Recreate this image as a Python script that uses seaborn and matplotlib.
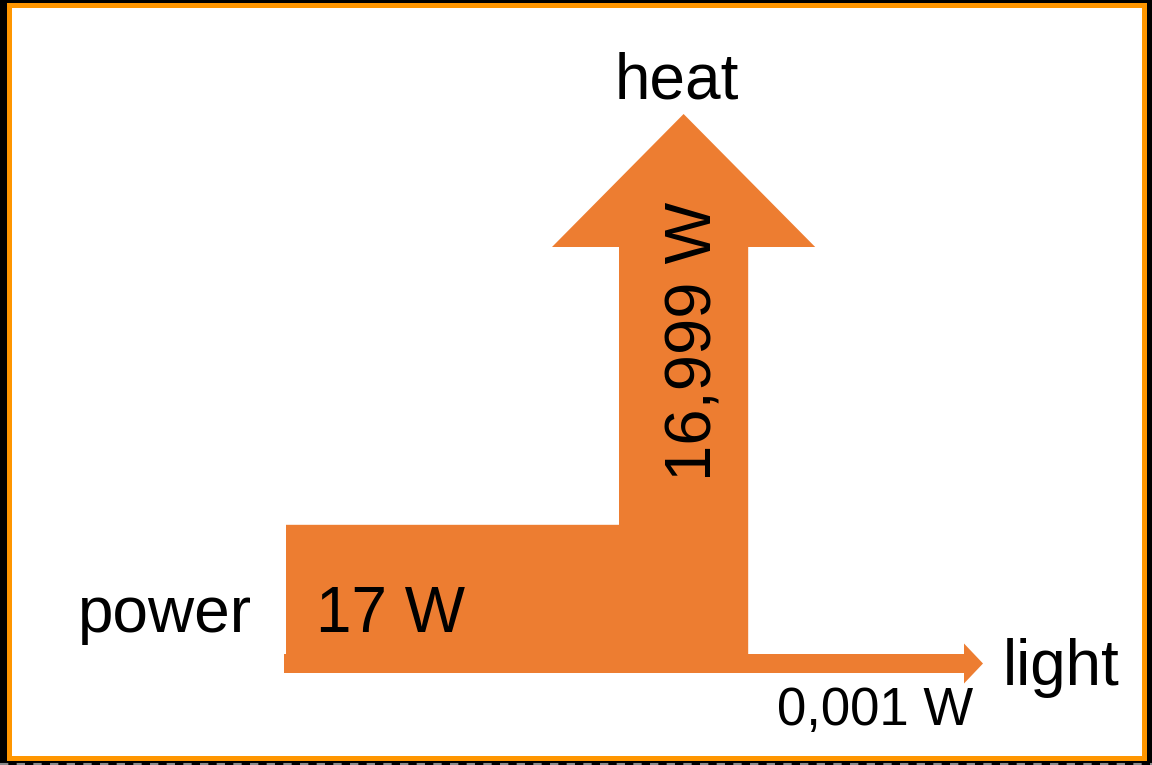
import matplotlib
matplotlib.use("Agg")
import matplotlib.pyplot as plt
import seaborn as sns
from matplotlib.patches import Polygon, Rectangle

# flow data
labels = ["power", "heat", "light"]
flows = [17, 16.999, 0.001]
flow_text = ["17 W", "16,999 W", "0,001 W"]

sns.set_theme(style="white")
plt.rcParams["font.family"] = ["Liberation Sans", "DejaVu Sans"]
plt.rcParams["text.color"] = "black"

ORANGE = "#ED7D31"
FRAME = "#FF9600"

fig = plt.figure(figsize=(11.52, 7.65), dpi=100, facecolor="black")
ax = fig.add_axes([0, 0, 1, 1])
ax.set_xlim(0, 1152)
ax.set_ylim(765, 0)
ax.axis("off")

# white slide with orange frame
ax.add_patch(Rectangle((8.5, 4.5), 1135, 753, facecolor="white",
                       edgecolor=FRAME, lw=3.6, zorder=1))
ax.plot([0, 1152], [763.5, 763.5], color="#8a8a8a", lw=1.5,
        dashes=(4, 4), zorder=0)

# band widths from the flow values (tiny flow gets a minimum width)
scale = 7.6
min_w = 19
heat_w = max(flows[1] * scale, min_w)
light_w = max(flows[2] * scale, min_w)
power_w = heat_w + light_w

y_bot = 673
x0 = 286
heat_x = 619
heat_r = heat_x + heat_w
heat_mid = (heat_x + heat_r) / 2
power_top = y_bot - power_w
light_top = y_bot - light_w
head_base, head_tip, overhang = 247, 114, 67
light_end, light_tip, light_half = 964, 983, 20
light_mid = (light_top + y_bot) / 2

main = [(x0, power_top), (heat_x, power_top), (heat_x, head_base),
        (heat_x - overhang, head_base), (heat_mid, head_tip),
        (heat_r + overhang, head_base), (heat_r, head_base),
        (heat_r, light_top + 1), (x0, light_top + 1)]
ax.add_patch(Polygon(main, closed=True, facecolor=ORANGE, edgecolor="none", zorder=2))

light = [(x0 - 2, light_top), (light_end, light_top),
         (light_end, light_mid - light_half), (light_tip, light_mid),
         (light_end, light_mid + light_half), (light_end, y_bot),
         (x0 - 2, y_bot)]
ax.add_patch(Polygon(light, closed=True, facecolor=ORANGE, edgecolor="none", zorder=2))

# labels
fs = 46
ax.text(78, 632, labels[0], ha="left", va="baseline", fontsize=fs, color="black", zorder=3)
ax.text(677, 98, labels[1], ha="center", va="baseline", fontsize=fs, color="black", zorder=3)
ax.text(1003, 685, labels[2], ha="left", va="baseline", fontsize=fs, color="black", zorder=3)

ax.text(316, 632, flow_text[0], ha="left", va="baseline", fontsize=fs, color="black", zorder=3)
ax.text(695, 341, flow_text[1], ha="center", va="center", rotation=90,
        fontsize=47, color="black", zorder=3)
ax.text(973, 725, flow_text[2], ha="right", va="baseline", fontsize=38, color="black", zorder=3)

fig.savefig("out.png", dpi=100, facecolor=fig.get_facecolor())
